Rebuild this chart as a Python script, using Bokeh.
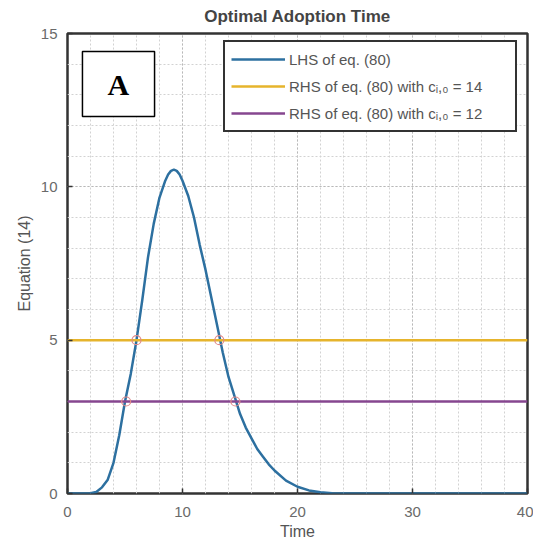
from bokeh.plotting import figure
from bokeh.models import Range1d, Legend, LegendItem, BoxAnnotation, Label, SingleIntervalTicker, ColumnDataSource
from bokeh.embed import file_html
from bokeh.resources import INLINE

# ---- data ----
time = [0, 1, 2, 2.5, 3, 3.5, 4, 4.5, 5, 5.5, 6, 6.5, 7, 7.5, 8, 8.5, 8.75, 9, 9.25, 9.5,
        9.75, 10, 10.5, 11, 11.5, 12, 12.5, 13, 13.5, 14, 14.5, 15, 15.5, 16, 16.5, 17,
        17.5, 18, 19, 20, 21, 22, 23, 25, 30, 35, 40]
lhs = [0, 0, 0.01, 0.05, 0.2, 0.45, 1.0, 1.9, 3.0, 3.9, 5.0, 6.3, 7.7, 8.8, 9.65, 10.2,
       10.4, 10.52, 10.56, 10.52, 10.4, 10.2, 9.7, 9.0, 8.1, 7.3, 6.4, 5.5, 4.6, 3.8,
       3.2, 2.6, 2.15, 1.8, 1.45, 1.2, 0.95, 0.75, 0.42, 0.22, 0.1, 0.04, 0.01, 0, 0, 0, 0]
rhs_14 = 5.0
rhs_12 = 3.0
cross_x = [6.0, 13.2, 5.1, 14.6]
cross_y = [5.0, 5.0, 3.0, 3.0]
x_start, x_end = 0, 40
y_start, y_end = 0, 15

BLUE = "#2d70a0"
YELLOW = "#e6b42c"
PURPLE = "#86468f"

p = figure(width=533, height=542, output_backend="svg", toolbar_location=None,
           x_range=Range1d(x_start, x_end), y_range=Range1d(y_start, y_end),
           min_border_left=67, min_border_right=6, min_border_top=33, min_border_bottom=49)

p.title.text = "Optimal Adoption Time"
p.title.align = "center"
p.title.vertical_align = "top"
p.title.text_font = "Liberation Sans"
p.title.text_font_size = "17px"
p.title.text_font_style = "bold"
p.title.text_color = "#444444"
p.title.offset = 0
p.title.standoff = 11

p.xaxis.ticker = SingleIntervalTicker(interval=10, num_minor_ticks=5)
p.yaxis.ticker = SingleIntervalTicker(interval=5, num_minor_ticks=5)
for ax in (p.xaxis[0], p.yaxis[0]):
    ax.axis_line_color = None
    ax.major_tick_in = 5
    ax.major_tick_out = 0
    ax.major_tick_line_color = "#333333"
    ax.major_tick_line_width = 1.5
    ax.minor_tick_line_color = None
    ax.major_label_text_font = "Liberation Sans"
    ax.major_label_text_font_size = "15px"
    ax.major_label_text_color = "#6a6a6a"
    ax.axis_label_text_font = "Liberation Sans"
    ax.axis_label_text_font_size = "16px"
    ax.axis_label_text_font_style = "normal"
    ax.axis_label_text_color = "#555555"
p.xaxis.axis_label = "Time"
p.yaxis.axis_label = "Equation (14)"
p.xaxis.major_label_standoff = 9
p.xaxis.axis_label_standoff = 3
p.yaxis.major_label_standoff = 6
p.yaxis.axis_label_standoff = 5

for g in (p.xgrid[0], p.ygrid[0]):
    g.grid_line_color = "#b8b8b8"
    g.grid_line_dash = "2 2"
    g.grid_line_width = 1
    g.minor_grid_line_color = "#d2d2d2"
    g.minor_grid_line_dash = "2 2"
    g.minor_grid_line_width = 1

p.outline_line_color = "#333333"
p.outline_line_width = 2.5
p.background_fill_color = "white"

src = ColumnDataSource(dict(x=time, y=lhs))
r_lhs = p.line("x", "y", source=src, line_color=BLUE, line_width=2.5, line_join="round")
r14 = p.line([x_start, x_end], [rhs_14, rhs_14], line_color=YELLOW, line_width=2.5)
r12 = p.line([x_start, x_end], [rhs_12, rhs_12], line_color=PURPLE, line_width=2.5)
p.scatter(cross_x, cross_y, marker="circle", size=9, fill_color=None,
          line_color="#e08a8a", line_width=1.2)

legend = Legend(items=[
    LegendItem(label="LHS of eq. (80)", renderers=[r_lhs]),
    LegendItem(label="RHS of eq. (80) with cᵢ,₀ = 14", renderers=[r14]),
    LegendItem(label="RHS of eq. (80) with cᵢ,₀ = 12", renderers=[r12]),
], location=(156, 361))
legend.border_line_color = "#333333"
legend.border_line_width = 2
legend.border_line_alpha = 1
legend.background_fill_color = "white"
legend.background_fill_alpha = 1
legend.padding = 6
legend.spacing = 5
legend.margin = 0
legend.glyph_width = 54
legend.glyph_height = 22
legend.label_height = 22
legend.label_width = 220
legend.label_standoff = 4
legend.label_text_font = "Liberation Sans"
legend.label_text_font_size = "15px"
legend.label_text_color = "#555555"
p.add_layout(legend, "center")

box = BoxAnnotation(left=1.3, right=7.57, bottom=12.29, top=14.41,
                    fill_color="white", fill_alpha=1,
                    line_color="black", line_alpha=1, line_width=1.5)
p.add_layout(box)
p.add_layout(Label(x=4.43, y=13.35, text="A", text_align="center", text_baseline="middle",
                   text_font="Liberation Serif", text_font_style="bold",
                   text_font_size="30px", text_color="black"))

open("out.html", "w").write(file_html(p, INLINE))
